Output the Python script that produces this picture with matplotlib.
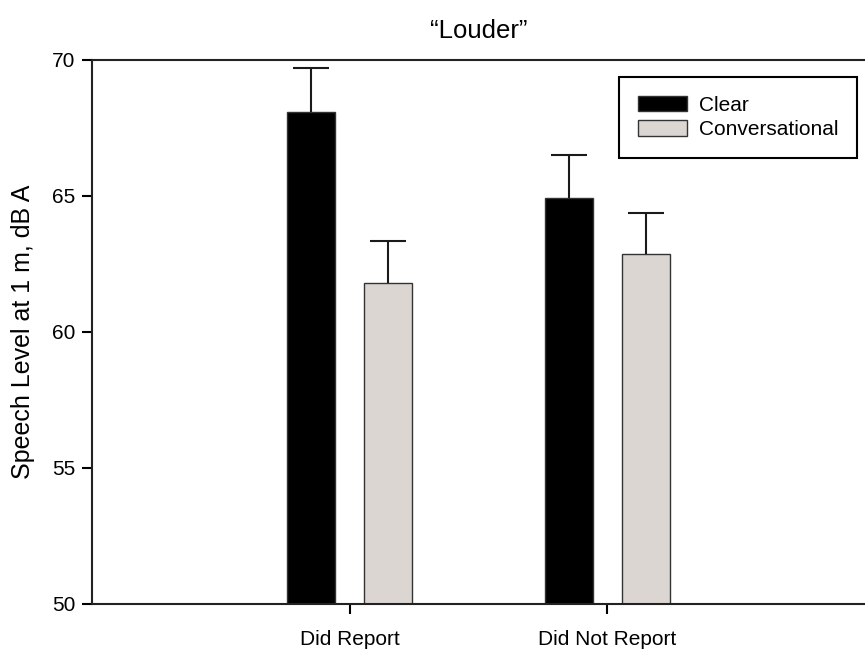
import matplotlib.pyplot as plt
import numpy as np

plt.rcParams['font.family'] = ['Liberation Sans', 'DejaVu Sans']

# data
groups = ["Did Report", "Did Not Report"]
clear_mean = [68.09, 64.92]
clear_err = [1.60, 1.59]
conv_mean = [61.79, 62.87]
conv_err = [1.54, 1.50]

x = np.arange(len(groups))
width = 0.185
offset = 0.15
base = 50

fig = plt.figure(figsize=(8.65, 6.51), dpi=100)
ax = fig.add_axes([92 / 865, 47 / 651, 1 - 92 / 865, 544 / 651])

err_kw = dict(ecolor="#1a1a1a", elinewidth=1.5, capsize=13, capthick=1.5)
b1 = ax.bar(x - offset, np.array(clear_mean) - base, width, bottom=base,
            color="black", edgecolor="#333333", linewidth=1,
            yerr=[[0, 0], clear_err], error_kw=err_kw, label="Clear")
b2 = ax.bar(x + offset, np.array(conv_mean) - base, width, bottom=base,
            color="#dcd6d3", edgecolor="#333333", linewidth=1,
            yerr=[[0, 0], conv_err], error_kw=err_kw, label="Conversational")
# only the upper half of the error bars has a cap
for b in (b1, b2):
    b.errorbar.lines[1][0].set_visible(False)

ax.set_xlim(-1, 2)
ax.set_ylim(50, 70)
ax.set_yticks([50, 55, 60, 65, 70])
ax.set_xticks(x)
ax.set_xticklabels(groups, fontsize=15)
ax.tick_params(axis="y", labelsize=15, length=7, width=1.5, pad=5)
ax.tick_params(axis="x", length=7, width=1.5, pad=12)

for side in ["left", "bottom", "top"]:
    ax.spines[side].set_linewidth(1.5)
    ax.spines[side].set_color("#222222")
ax.spines["right"].set_visible(False)

ax.set_ylabel("Speech Level at 1 m, dB A", fontsize=18, labelpad=12)
ax.set_title("\u201cLouder\u201d", fontsize=18.5, pad=16)

leg = ax.legend(loc="upper right", bbox_to_anchor=(857 / 865, 1 - 77 / 651),
                bbox_transform=fig.transFigure, borderaxespad=0,
                fontsize=15, fancybox=False, framealpha=1, edgecolor="black",
                handlelength=2.35, handleheight=0.77, handletextpad=0.58,
                labelspacing=0.25, borderpad=0.9)
leg.get_frame().set_linewidth(1.5)

fig.savefig("out.png", dpi=100)
